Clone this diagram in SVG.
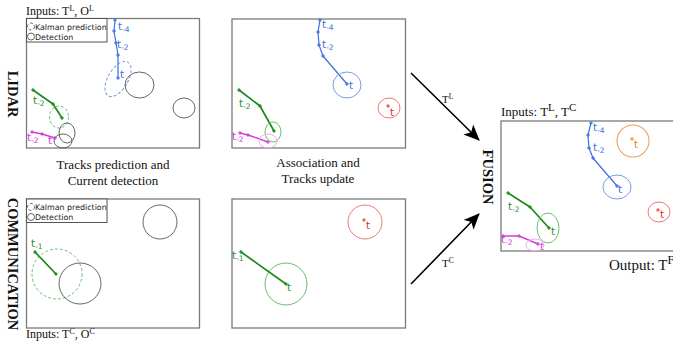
<svg xmlns="http://www.w3.org/2000/svg" xmlns:xlink="http://www.w3.org/1999/xlink" width="673" height="343" viewBox="0 0 673 343">
<style>
.panel{fill:#fff;stroke:#7a7a7a;stroke-width:1.3}
.legend{fill:#fff;stroke:#555;stroke-width:1}
.lg{font-family:"DejaVu Sans",sans-serif;font-size:7.9px;fill:#222}
.serif{font-family:"Liberation Serif","Times New Roman",serif;fill:#111}
.cap{font-size:13px;text-anchor:middle}
.inp{font-size:12px}
.side{font-size:14.5px;font-weight:bold;text-anchor:middle}
.lbl{font-family:"DejaVu Sans",sans-serif;font-size:10.5px}
.sub{font-size:7.5px}
.trk{fill:none;stroke-linejoin:round;stroke-linecap:round}
.det{fill:none;stroke:#555;stroke-width:0.9}
.dash{stroke-dasharray:3,2}
.blue{stroke:#3d6fe0;stroke-width:1.2}
.green{stroke:#1c8a1c;stroke-width:1.7}
.mag{stroke:#d43cd4;stroke-width:1.4}
.tb{fill:#3d6fe0}.tg{fill:#2a8f2a}.tm{fill:#d43cd4}.tr{fill:#e03030}.to{fill:#e8801e}
.eb{fill:none;stroke:#7a9ae8;stroke-width:1}
.eg{fill:none;stroke:#6cbf6c;stroke-width:1}
.er{fill:none;stroke:#e87a7a;stroke-width:1}
.eo{fill:none;stroke:#eea25a;stroke-width:1.1}
.em{fill:none;stroke:#f0a8f0;stroke-width:1}
.tkb{stroke:#3d6fe0;stroke-width:1}
.tkg{stroke:#1c8a1c;stroke-width:1}
.tkm{stroke:#d43cd4;stroke-width:1}
.tkr{stroke:#e03030;stroke-width:0.9}
.tko{stroke:#e8801e;stroke-width:0.9}
.arrow{stroke:#000;stroke-width:1.6;fill:none}
</style>
<defs>
<path id="tk" d="M-2,0H2M0,-2V2" fill="none"/>
<marker id="ah" markerUnits="userSpaceOnUse" markerWidth="18" markerHeight="14" refX="15" refY="7" orient="auto">
<path d="M0,0 L16,7 L0,14 L4,7 Z" fill="#000"/>
</marker>
</defs>

<!-- Side labels -->
<text class="serif side" transform="translate(8,94) rotate(90)">LIDAR</text>
<text class="serif side" transform="translate(8,264) rotate(90)">COMMUNICATION</text>
<text class="serif side" transform="translate(483,177) rotate(90)">FUSION</text>

<!-- Panel 1: LIDAR prediction -->
<g id="lidar-prediction">
<text class="serif inp" x="26" y="15">Inputs: T<tspan font-size="8" dy="-4">L</tspan><tspan dy="4">, O</tspan><tspan font-size="8" dy="-4">L</tspan></text>
<rect class="panel" x="26.5" y="18.5" width="173" height="129.5"/>
<rect class="legend" x="26.5" y="18.5" width="80.5" height="23.5"/>
<circle class="det dash" cx="31" cy="26.5" r="3.5" stroke-width="0.7"/>
<circle class="det" cx="31" cy="36.5" r="3.5" stroke-width="0.7"/>
<text class="lg" x="35" y="29.5">Kalman prediction</text>
<text class="lg" x="35" y="39.5">Detection</text>
<polyline class="trk blue" points="115,20 114,31 116,43 118,55 118,78"/>
<use href="#tk" class="tkb" x="115" y="20"/><use href="#tk" class="tkb" x="114" y="31"/><use href="#tk" class="tkb" x="116" y="43"/><use href="#tk" class="tkb" x="118" y="55"/><use href="#tk" class="tkb" x="118" y="78"/>
<text class="lbl tb" x="118" y="30">t<tspan class="sub" dy="2">-4</tspan></text>
<text class="lbl tb" x="117" y="48">t<tspan class="sub" dy="2">-2</tspan></text>
<text class="lbl tb" x="120" y="78">t</text>
<ellipse class="eb dash" cx="118" cy="79" rx="10" ry="19.5" transform="rotate(30 118 79)"/>
<ellipse class="det" cx="139.5" cy="85" rx="14.5" ry="13"/>
<ellipse class="det" cx="184" cy="108" rx="11" ry="10"/>
<polyline class="trk green" points="33,90 53,104 62,118"/>
<use href="#tk" class="tkg" x="33" y="90"/><use href="#tk" class="tkg" x="53" y="104"/><use href="#tk" class="tkg" x="62" y="118"/>
<text class="lbl tg" x="33" y="104">t<tspan class="sub" dy="2">-2</tspan></text>
<ellipse class="eg dash" cx="59" cy="117" rx="9.5" ry="11"/>
<ellipse class="det" cx="67" cy="133" rx="8" ry="10"/>
<ellipse class="det" cx="63" cy="141" rx="9" ry="7"/>
<polyline class="trk mag" points="32,132 42,134 55,138"/>
<use href="#tk" class="tkm" x="32" y="132"/><use href="#tk" class="tkm" x="42" y="134"/><use href="#tk" class="tkm" x="55" y="138"/>
<text class="lbl tm" x="27" y="141">t<tspan class="sub" dy="2">-2</tspan></text>
<text class="lbl tm" x="48" y="144">t</text>
</g>

<!-- Panel 2: LIDAR association -->
<g id="lidar-association">
<rect class="panel" x="232" y="19" width="173.5" height="129"/>
<polyline class="trk blue" points="320,20 318,32 319,45 323,56 347,84"/>
<use href="#tk" class="tkb" x="320" y="20"/><use href="#tk" class="tkb" x="318" y="32"/><use href="#tk" class="tkb" x="319" y="45"/><use href="#tk" class="tkb" x="323" y="56"/><use href="#tk" class="tkb" x="347" y="84"/>
<text class="lbl tb" x="322" y="28">t<tspan class="sub" dy="2">-4</tspan></text>
<text class="lbl tb" x="322" y="48">t<tspan class="sub" dy="2">-2</tspan></text>
<text class="lbl tb" x="349" y="89">t</text>
<ellipse class="eb" cx="347" cy="85" rx="14" ry="13"/>
<ellipse class="er" cx="389" cy="108" rx="11" ry="10"/>
<use href="#tk" class="tkr" x="388" y="106"/>
<text class="lbl tr" x="390" y="116">t</text>
<polyline class="trk green" points="239,90 260,106 274,131"/>
<use href="#tk" class="tkg" x="239" y="90"/><use href="#tk" class="tkg" x="260" y="106"/><use href="#tk" class="tkg" x="274" y="131"/>
<text class="lbl tg" x="239" y="107">t<tspan class="sub" dy="2">-2</tspan></text>
<ellipse class="eg" cx="273" cy="132" rx="8" ry="10"/>
<polyline class="trk mag" points="240,133 248,135 268,142"/>
<use href="#tk" class="tkm" x="240" y="133"/><use href="#tk" class="tkm" x="248" y="135"/><use href="#tk" class="tkm" x="268" y="142"/>
<text class="lbl tm" x="232" y="140">t<tspan class="sub" dy="2">-2</tspan></text>
<ellipse class="em" cx="268" cy="141" rx="9" ry="7"/>
</g>

<!-- Captions -->
<text class="serif cap" x="113" y="169">Tracks prediction and</text>
<text class="serif cap" x="113" y="185">Current detection</text>
<text class="serif cap" x="318" y="167">Association and</text>
<text class="serif cap" x="318" y="183">Tracks update</text>

<!-- Panel 3: Communication prediction -->
<g id="comm-prediction">
<rect class="panel" x="26.5" y="199" width="173" height="129"/>
<rect class="legend" x="26.5" y="199" width="80.5" height="23.5"/>
<circle class="det dash" cx="31" cy="207" r="3.5" stroke-width="0.7"/>
<circle class="det" cx="31" cy="217" r="3.5" stroke-width="0.7"/>
<text class="lg" x="35" y="210">Kalman prediction</text>
<text class="lg" x="35" y="220">Detection</text>
<circle class="det" cx="160" cy="222" r="17"/>
<circle class="eg dash" cx="57" cy="274" r="25"/>
<ellipse class="det" cx="80" cy="283.5" rx="21" ry="20.5"/>
<line class="trk green" x1="35" y1="252" x2="56" y2="274"/>
<use href="#tk" class="tkg" x="35" y="252"/><use href="#tk" class="tkg" x="56" y="274"/>
<text class="lbl tg" x="31" y="247">t<tspan class="sub" dy="2">-1</tspan></text>
<text class="serif inp" x="26" y="338">Inputs: T<tspan font-size="8" dy="-4">C</tspan><tspan dy="4">, O</tspan><tspan font-size="8" dy="-4">C</tspan></text>
</g>

<!-- Panel 4: Communication association -->
<g id="comm-association">
<rect class="panel" x="232" y="199" width="173.5" height="129"/>
<circle class="er" cx="365" cy="222" r="17"/>
<use href="#tk" class="tkr" x="364" y="220"/>
<text class="lbl tr" x="366" y="229">t</text>
<circle class="eg" cx="286" cy="284" r="21"/>
<line class="trk green" x1="241" y1="252" x2="286" y2="284"/>
<use href="#tk" class="tkg" x="241" y="252"/><use href="#tk" class="tkg" x="286" y="284"/>
<text class="lbl tg" x="232" y="259">t<tspan class="sub" dy="2">-1</tspan></text>
<text class="lbl tg" x="287" y="291">t</text>
</g>

<!-- Connectors -->
<g id="connectors">
<line class="arrow" x1="411" y1="73" x2="479" y2="140" marker-end="url(#ah)"/>
<line class="arrow" x1="411" y1="284" x2="479" y2="214" marker-end="url(#ah)"/>
<text class="serif" font-size="11" x="442" y="103">T<tspan font-size="7.5" dy="-4">L</tspan></text>
<text class="serif" font-size="11" x="442" y="267">T<tspan font-size="7.5" dy="-4">C</tspan></text>
</g>

<!-- Panel 5: Fusion -->
<g id="fusion">
<text class="serif" font-size="13" x="501" y="116">Inputs: T<tspan font-size="11" dy="-5">L</tspan><tspan dy="5">, T</tspan><tspan font-size="11" dy="-5">C</tspan></text>
<rect class="panel" x="501" y="121" width="174" height="130"/>
<polyline class="trk blue" points="591,123 588,135 589,148 593,158 617,186"/>
<use href="#tk" class="tkb" x="591" y="123"/><use href="#tk" class="tkb" x="588" y="135"/><use href="#tk" class="tkb" x="589" y="148"/><use href="#tk" class="tkb" x="593" y="158"/><use href="#tk" class="tkb" x="617" y="186"/>
<text class="lbl tb" x="593" y="131">t<tspan class="sub" dy="2">-4</tspan></text>
<text class="lbl tb" x="593" y="151">t<tspan class="sub" dy="2">-2</tspan></text>
<text class="lbl tb" x="618" y="193">t</text>
<ellipse class="eb" cx="617" cy="187" rx="14" ry="12"/>
<circle class="eo" cx="633" cy="141" r="16"/>
<use href="#tk" class="tko" x="632" y="139"/>
<text class="lbl to" x="634" y="148">t</text>
<ellipse class="er" cx="659" cy="212" rx="11" ry="10"/>
<use href="#tk" class="tkr" x="658" y="210"/>
<text class="lbl tr" x="660" y="218">t</text>
<polyline class="trk green" points="508,193 530,207 549,228"/>
<use href="#tk" class="tkg" x="508" y="193"/><use href="#tk" class="tkg" x="530" y="207"/><use href="#tk" class="tkg" x="549" y="228"/>
<text class="lbl tg" x="508" y="210">t<tspan class="sub" dy="2">-2</tspan></text>
<text class="lbl tg" x="551" y="235">t</text>
<ellipse class="eg" cx="548" cy="228" rx="11" ry="15"/>
<polyline class="trk mag" points="503,236 519,236 538,244"/>
<use href="#tk" class="tkm" x="503" y="236"/><use href="#tk" class="tkm" x="519" y="236"/><use href="#tk" class="tkm" x="538" y="244"/>
<text class="lbl tm" x="501" y="243">t<tspan class="sub" dy="2">-2</tspan></text>
<text class="lbl tm" x="540" y="250">t</text>
<ellipse class="em" cx="535" cy="245" rx="9" ry="6"/>
<text class="serif" font-size="15" x="609" y="270">Output: T<tspan font-size="12" dy="-6">F</tspan></text>
</g>
</svg>
